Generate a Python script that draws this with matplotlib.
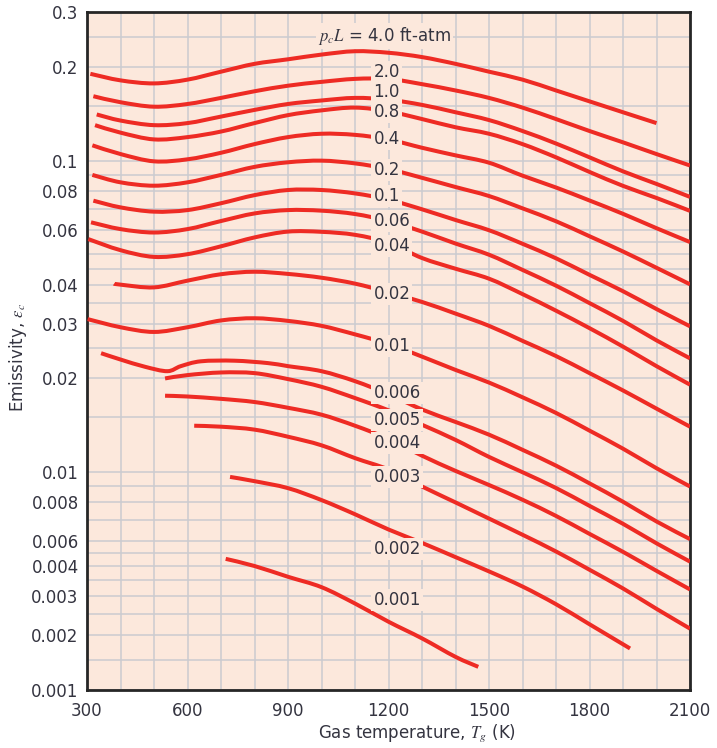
import numpy as np
import matplotlib
matplotlib.use('Agg')
import matplotlib.pyplot as plt
from matplotlib.path import Path
from matplotlib.patches import PathPatch

plt.rcParams['font.family'] = 'DejaVu Sans'
plt.rcParams['mathtext.fontset'] = 'stix'

# y axis as printed: tick value -> position on the log paper
ytick_vals = [0.001, 0.002, 0.003, 0.004, 0.006, 0.008, 0.01, 0.02, 0.03, 0.04,
              0.06, 0.08, 0.1, 0.2, 0.3]
ytick_text = ['0.001', '0.002', '0.003', '0.004', '0.006', '0.008', '0.01', '0.02',
              '0.03', '0.04', '0.06', '0.08', '0.1', '0.2', '0.3']
scale_lab = [1e-5, 0.001, 0.002, 0.003, 0.004, 0.006, 10.0]
scale_pos = [2e-5, 0.002, 0.003, 0.004, 0.005, 0.006, 10.0]
grid_upper = [0.25, 0.15, 0.09, 0.07, 0.055, 0.05, 0.045, 0.035, 0.025, 0.015, 0.009, 0.007]
grid_lower_pos = [0.0055, 0.0045, 0.0035, 0.0025]
xtick_vals = [300, 600, 900, 1200, 1500, 1800, 2100]

# curves, p_c L in ft-atm
T_40 = [310, 400, 500, 600, 700, 800, 900, 1000, 1100, 1200, 1300, 1400, 1500, 1600, 1700, 1800, 1900, 2000]
e_40 = [0.190, 0.181, 0.177, 0.182, 0.193, 0.2045, 0.2115, 0.219, 0.2245, 0.222, 0.215, 0.2045, 0.193, 0.182, 0.168, 0.155, 0.143, 0.132]

T_20 = [319, 400, 500, 600, 700, 800, 900, 1000, 1100, 1200, 1300, 1400, 1500, 1600, 1700, 1800, 1900, 2000, 2100]
e_20 = [0.161, 0.154, 0.149, 0.152, 0.159, 0.167, 0.174, 0.179, 0.183, 0.183, 0.176, 0.168, 0.159, 0.148, 0.136, 0.1245, 0.1145, 0.105, 0.0965]

T_10 = [329, 400, 500, 600, 700, 800, 900, 1000, 1100, 1200, 1300, 1400, 1500, 1600, 1700, 1800, 1900, 2000, 2100]
e_10 = [0.1407, 0.1345, 0.130, 0.132, 0.1385, 0.1455, 0.152, 0.156, 0.159, 0.157, 0.151, 0.143, 0.135, 0.1245, 0.1135, 0.1025, 0.0924, 0.0842, 0.0765]

T_08 = [324, 400, 500, 600, 700, 800, 900, 1000, 1100, 1200, 1300, 1400, 1500, 1600, 1700, 1800, 1900, 2000, 2100]
e_08 = [0.130, 0.123, 0.117, 0.119, 0.124, 0.132, 0.140, 0.145, 0.148, 0.144, 0.136, 0.128, 0.122, 0.113, 0.1025, 0.092, 0.083, 0.0759, 0.069]

T_04 = [316, 400, 500, 600, 700, 800, 900, 1000, 1100, 1200, 1300, 1400, 1500, 1600, 1700, 1800, 1900, 2000, 2100]
e_04 = [0.112, 0.105, 0.0995, 0.101, 0.106, 0.113, 0.119, 0.122, 0.121, 0.117, 0.110, 0.104, 0.0985, 0.0895, 0.082, 0.0745, 0.0675, 0.0607, 0.0548]

T_02 = [316, 400, 500, 600, 700, 800, 900, 1000, 1100, 1200, 1300, 1400, 1500, 1600, 1700, 1800, 1900, 2000, 2100]
e_02 = [0.090, 0.0852, 0.0831, 0.0852, 0.0900, 0.0955, 0.0988, 0.100, 0.098, 0.094, 0.0881, 0.0823, 0.0770, 0.0703, 0.0639, 0.0572, 0.0511, 0.0453, 0.0401]

T_01 = [319, 400, 500, 600, 700, 800, 900, 1000, 1100, 1200, 1300, 1400, 1500, 1600, 1700, 1800, 1900, 2000, 2100]
e_01 = [0.0744, 0.0708, 0.0686, 0.0694, 0.0730, 0.0775, 0.0805, 0.0805, 0.0785, 0.075, 0.0698, 0.0645, 0.0598, 0.0541, 0.0486, 0.0430, 0.0381, 0.0334, 0.0294]

T_006 = [312, 400, 500, 600, 700, 800, 900, 1000, 1100, 1200, 1300, 1400, 1500, 1600, 1700, 1800, 1900, 2000, 2100]
e_006 = [0.0634, 0.0603, 0.0588, 0.0603, 0.0640, 0.0677, 0.0694, 0.0691, 0.0674, 0.064, 0.0592, 0.0542, 0.0499, 0.0446, 0.0397, 0.0349, 0.0306, 0.0265, 0.0232]

T_004 = [304, 400, 500, 600, 700, 800, 900, 1000, 1100, 1200, 1300, 1400, 1500, 1600, 1700, 1800, 1900, 2000, 2100]
e_004 = [0.056, 0.0516, 0.0491, 0.0501, 0.0531, 0.0567, 0.0592, 0.0591, 0.0578, 0.0545, 0.0487, 0.045, 0.0418, 0.0373, 0.033, 0.0290, 0.0253, 0.0219, 0.0191]

T_002 = [381, 400, 500, 600, 700, 800, 900, 1000, 1100, 1200, 1300, 1400, 1500, 1600, 1700, 1800, 1900, 2000, 2100]
e_002 = [0.0403, 0.040, 0.0392, 0.0412, 0.0432, 0.0440, 0.0433, 0.0421, 0.0403, 0.0378, 0.0352, 0.0323, 0.0295, 0.0264, 0.0236, 0.0208, 0.0183, 0.016, 0.014]

T_001 = [302, 400, 500, 600, 700, 800, 900, 1000, 1100, 1200, 1300, 1400, 1500, 1600, 1700, 1800, 1900, 2000, 2100]
e_001 = [0.031, 0.0292, 0.0282, 0.0292, 0.0307, 0.0312, 0.0306, 0.0295, 0.0277, 0.0258, 0.0235, 0.0213, 0.0194, 0.0174, 0.0155, 0.0136, 0.0119, 0.0103, 0.0090]

T_0006 = [342, 400, 473, 540, 580, 640, 740, 840, 900, 1000, 1100, 1200, 1300, 1400, 1500, 1600, 1700, 1800, 1900, 2000, 2100]
e_0006 = [0.0241, 0.0230, 0.0218, 0.0211, 0.0219, 0.0227, 0.0228, 0.0224, 0.0219, 0.0211, 0.0196, 0.0178, 0.0159, 0.0145, 0.0132, 0.0118, 0.0105, 0.00921, 0.00804, 0.00695, 0.0061]

T_0005 = [533, 600, 700, 800, 900, 1000, 1100, 1200, 1300, 1400, 1500, 1600, 1700, 1800, 1900, 2000, 2100]
e_0005 = [0.0200, 0.0205, 0.0209, 0.0208, 0.0199, 0.0188, 0.0173, 0.0158, 0.0142, 0.0127, 0.0112, 0.0100, 0.0089, 0.0078, 0.00683, 0.00581, 0.0043]

T_0004 = [533, 600, 700, 800, 900, 1000, 1100, 1200, 1300, 1400, 1500, 1600, 1700, 1800, 1900, 2000, 2100]
e_0004 = [0.0176, 0.0175, 0.0172, 0.0168, 0.0161, 0.0153, 0.0141, 0.0128, 0.0113, 0.0101, 0.0091, 0.00816, 0.00724, 0.00634, 0.00505, 0.00382, 0.0032]

T_0003 = [620, 700, 800, 900, 1000, 1100, 1200, 1300, 1400, 1500, 1600, 1700, 1800, 1900, 2000, 2100]
e_0003 = [0.0141, 0.0140, 0.0137, 0.0130, 0.0122, 0.0111, 0.0102, 0.0090, 0.0080, 0.0071, 0.0063, 0.00508, 0.00386, 0.00323, 0.00263, 0.00214]

T_0002 = [727, 800, 900, 1000, 1100, 1200, 1300, 1400, 1500, 1600, 1700, 1800, 1921]
e_0002 = [0.00966, 0.00936, 0.00889, 0.00814, 0.00733, 0.00655, 0.00585, 0.00463, 0.0038, 0.00329, 0.00276, 0.00224, 0.00169]

T_0001 = [714, 800, 900, 1000, 1100, 1200, 1300, 1400, 1468]
e_0001 = [0.0045, 0.0040, 0.00361, 0.00327, 0.00278, 0.0023, 0.00192, 0.00152, 0.00134]

curves = [(T_40, e_40), (T_20, e_20), (T_10, e_10), (T_08, e_08), (T_04, e_04),
          (T_02, e_02), (T_01, e_01), (T_006, e_006), (T_004, e_004), (T_002, e_002),
          (T_001, e_001), (T_0006, e_0006), (T_0005, e_0005), (T_0004, e_0004),
          (T_0003, e_0003), (T_0002, e_0002), (T_0001, e_0001)]

# curve labels
lab_text = ['2.0', '1.0', '0.8', '0.4', '0.2', '0.1', '0.06', '0.04', '0.02', '0.01',
            '0.006', '0.005', '0.004', '0.003', '0.002', '0.001']
lab_e = [0.1923, 0.1659, 0.1430, 0.1174, 0.0933, 0.0772, 0.0641, 0.0533, 0.0373, 0.0254,
         0.0180, 0.0147, 0.0124, 0.00962, 0.00533, 0.00288]
lab_T = 1155

bg = '#FCE8DC'
red = '#EE2B24'
txt = '#343440'


def fwd(v):
    v = np.clip(np.asarray(v, dtype=float), 1e-9, None)
    return np.interp(np.log10(v), np.log10(scale_lab), np.log10(scale_pos))


def inv(p):
    return 10 ** np.interp(p, np.log10(scale_pos), np.log10(scale_lab))


def smooth_path(T, e):
    # Catmull-Rom through the read points, drawn as cubic Bezier segments
    x = np.asarray(T, dtype=float)
    y = fwd(e)
    px = np.r_[x[0], x, x[-1]]
    py = np.r_[y[0], y, y[-1]]
    verts = [(x[0], y[0])]
    codes = [Path.MOVETO]
    for i in range(1, len(px) - 2):
        c1 = (px[i] + (px[i + 1] - px[i - 1]) / 6, py[i] + (py[i + 1] - py[i - 1]) / 6)
        c2 = (px[i + 1] - (px[i + 2] - px[i]) / 6, py[i + 1] - (py[i + 2] - py[i]) / 6)
        verts += [c1, c2, (px[i + 1], py[i + 1])]
        codes += [Path.CURVE4] * 3
    v = np.array(verts)
    v[:, 1] = inv(v[:, 1])
    return Path(v, codes)


fig = plt.figure(figsize=(7.17, 7.48), dpi=100)
ax = fig.add_axes([87 / 717, 1 - 690 / 748, 603 / 717, 678 / 748])
ax.set_facecolor(bg)
ax.set_yscale('function', functions=(fwd, inv))
ax.set_xlim(300, 2100)
ax.set_ylim(0.001, 0.3)

ax.set_xticks(xtick_vals)
ax.set_xticks(range(300, 2101, 100), minor=True)
ax.set_yticks(ytick_vals)
ax.set_yticklabels(ytick_text)
grid_lower = list(inv(np.log10(grid_lower_pos)))
ax.set_yticks(grid_upper + grid_lower, minor=True)
ax.grid(True, which='both', color='#CBCBD0', linewidth=1.1)
ax.set_axisbelow(True)
ax.tick_params(which='both', length=0, labelsize=12, labelcolor=txt)
ax.tick_params(axis='x', pad=9)
ax.tick_params(axis='y', pad=6)

for sp in ax.spines.values():
    sp.set_color('#262626')
    sp.set_linewidth(2.0)

for T, e in curves:
    ax.add_patch(PathPatch(smooth_path(T, e), fill=False, edgecolor=red, lw=2.9,
                           capstyle='butt', zorder=3))

for s, e in zip(lab_text, lab_e):
    ax.text(lab_T, e, s, fontsize=12, color=txt, ha='left', va='center', zorder=4,
            bbox=dict(facecolor=bg, edgecolor='none', pad=1.5))
ax.text(990, 0.252, r'$p_cL$ = 4.0 ft-atm', fontsize=12, color=txt, ha='left', va='center',
        zorder=4, bbox=dict(facecolor=bg, edgecolor='none', pad=1.5))

ax.set_xlabel(r'Gas temperature, $T_g$ (K)', fontsize=12, color=txt)
ax.set_ylabel(r'Emissivity, $\varepsilon_c$', fontsize=12, color=txt)
ax.xaxis.set_label_coords(0.547, -0.048)
ax.yaxis.set_label_coords(-0.097, 0.49)

fig.savefig('out.png', dpi=100)
